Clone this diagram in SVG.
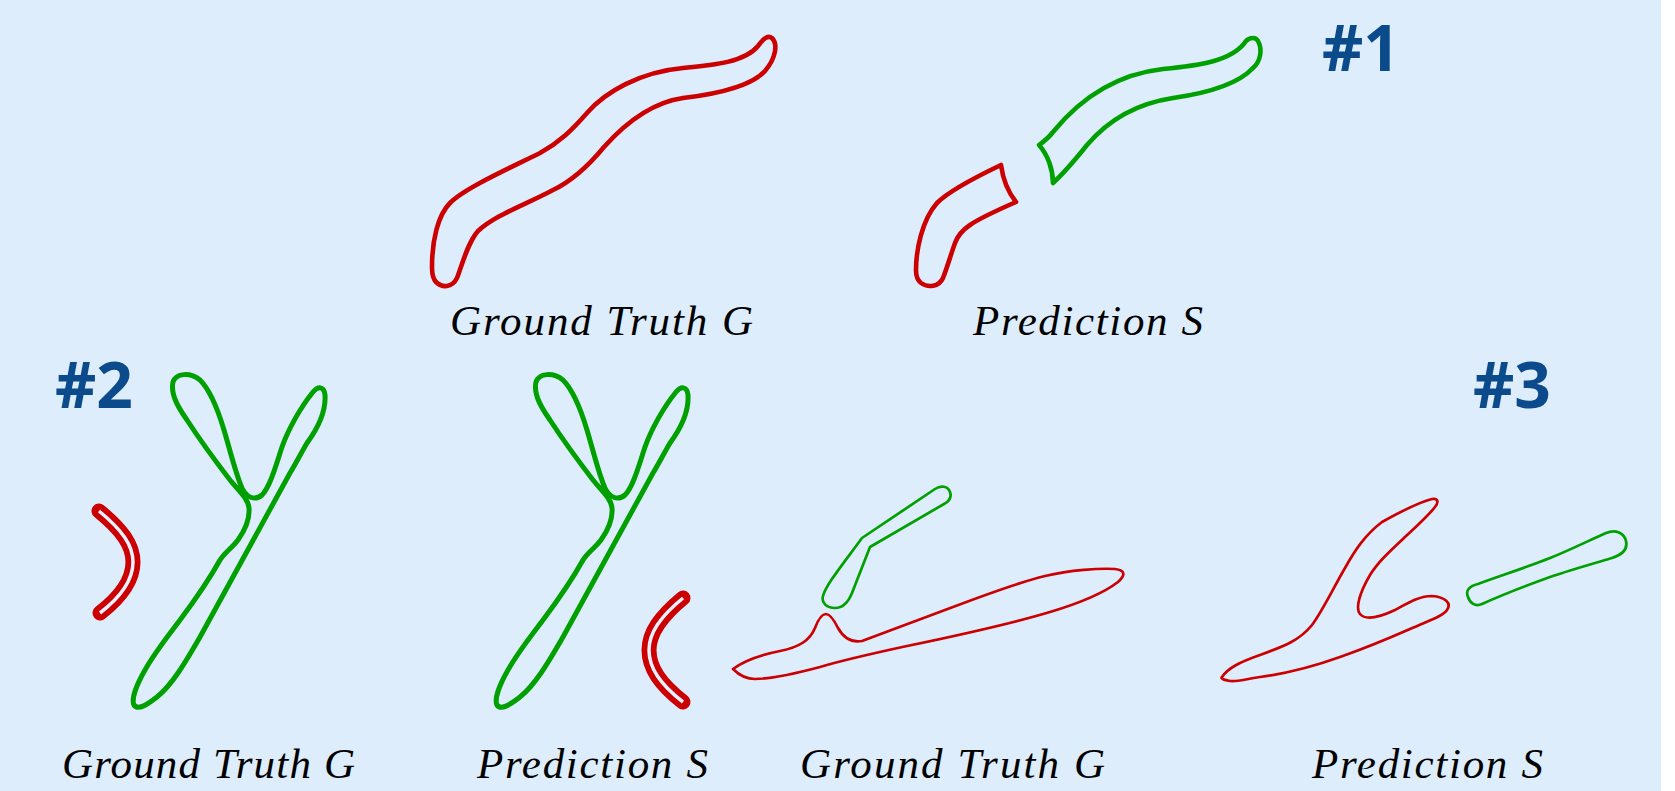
<svg xmlns="http://www.w3.org/2000/svg" xmlns:xlink="http://www.w3.org/1999/xlink" width="1675" height="791" viewBox="0 0 1675 791">
<style>
.red{fill:none;stroke:#cc0000;stroke-linejoin:round;stroke-linecap:round}
.green{fill:none;stroke:#00a000;stroke-linejoin:round;stroke-linecap:round}
.w4{stroke-width:4.6}
.w45{stroke-width:5}
.w3{stroke-width:2.7}
.lbl{font-family:'Liberation Serif','DejaVu Serif',serif;font-style:italic;font-size:43px;fill:#000}
.num{font-family:'Open Sans','Noto Sans',sans-serif;font-weight:bold;font-size:64px;fill:#0b4a8b}
.cres{fill:none;stroke:#cc0000;stroke-width:15;stroke-linecap:round}
.cresin{fill:none;stroke:#e6f1fd;stroke-width:3.5;stroke-linecap:butt}
</style>
<defs>
<path id="ypath" d="M 173,382 C 176,373 190,372 200,380 C 210,390 218,410 224,430 C 230,450 236,475 242,488 C 247,498 255,501 262,495 C 270,487 276,465 282,447 C 288,430 300,408 313,392 C 318,386 324,386 325,395 C 326,410 318,428 307,443 C 300,455 295,465 290,473 L 200,637 C 185,663 172,685 157,697 C 148,704 138,711 134,705 C 131,699 137,684 145,670 C 155,652 168,636 180,620 C 195,600 210,578 220,560 C 225,552 232,548 238,540 C 245,530 250,520 249,508 C 248,498 238,490 230,480 C 220,467 200,440 187,420 C 180,410 170,395 173,382 Z"/>
<path id="cresL" d="M 99,511 C 122,530 133,545 133,562 C 133,580 122,596 100,613"/>
<path id="cresR" d="M 683,598 C 660,617 649,633 649,650 C 649,668 660,684 683,702"/>
</defs>
<rect x="0" y="0" width="1675" height="791" fill="#ffffff"/>
<rect x="0" y="0" width="1661" height="791" fill="#ddedfc"/>

<g id="case1-gt">
<path class="red w4" d="M 432,267 C 432,240 438,215 450,203 C 465,188 510,168 540,153 C 560,142 572,130 587,113 C 605,92 640,72 683,68 C 715,65 745,62 758,46 C 764,38 768,35 772,38 C 778,44 776,58 765,71 C 752,85 725,93 683,98 C 655,102 630,118 604,147 C 585,170 570,182 553,190 C 525,205 495,215 478,231 C 468,242 462,265 457,278 C 452,288 442,288 436,282 C 432,278 432,272 432,267 Z"/>
<text class="lbl" x="450" y="335" textLength="303" lengthAdjust="spacing">Ground Truth G</text>
</g>

<g id="case1-pred">
<path class="red w4" d="M 916,270 C 916,250 922,220 937,203 C 950,190 980,175 1001,165 C 1003,180 1008,192 1016,202 C 1000,209 980,218 970,225 C 964,229 958,235 955,243 C 951,254 947,268 943,278 C 939,287 928,288 921,283 C 917,280 916,275 916,270 Z"/>
<path class="green w4" d="M 1039,145 C 1046,140 1050,136 1053,132 C 1075,105 1110,75 1163,69 C 1195,66 1232,62 1246,41 C 1250,37 1256,37 1258,41 C 1263,50 1260,62 1253,68 C 1240,82 1215,92 1173,98 C 1140,103 1110,118 1087,145 C 1075,160 1065,172 1053,183 C 1053,170 1048,155 1039,145 Z"/>
<text class="lbl" x="973" y="335" textLength="230" lengthAdjust="spacing">Prediction S</text>
</g>

<g id="label-1"><text class="num" x="1322" y="71">#1</text></g>
<g id="label-2"><text class="num" x="55" y="408">#2</text></g>
<g id="label-3"><text class="num" x="1473" y="408">#3</text></g>

<g id="case2-gt">
<use xlink:href="#cresL" class="cres"/>
<use xlink:href="#cresL" class="cresin"/>
<use xlink:href="#ypath" class="green w45"/>
<text class="lbl" x="62" y="778" textLength="293" lengthAdjust="spacing">Ground Truth G</text>
</g>

<g id="case2-pred">
<use xlink:href="#ypath" class="green w45" transform="translate(363,0)"/>
<use xlink:href="#cresR" class="cres"/>
<use xlink:href="#cresR" class="cresin"/>
<text class="lbl" x="477" y="778" textLength="231" lengthAdjust="spacing">Prediction S</text>
</g>

<g id="case3-gt">
<path class="green w3" d="M 823,596 C 826,585 840,568 862,538 L 935,489 C 941,485 948,486 950,492 C 952,498 948,502 944,504 L 870,547 L 852,593 C 848,603 842,608 835,608 C 827,608 821,603 823,596 Z"/>
<path class="red w3" d="M 733,669 C 745,660 760,655 780,651 C 800,647 810,640 815,628 C 818,620 822,614 826,614 C 830,614 834,620 838,628 C 843,637 850,643 862,641 L 953,607 C 990,593 1020,582 1045,576 C 1070,570 1100,568 1115,569 C 1125,570 1126,575 1118,582 C 1105,592 1080,603 1050,612 C 1010,624 960,635 907,646 C 870,654 840,661 820,667 C 790,675 770,679 755,679 C 745,679 738,674 733,669 Z"/>
<text class="lbl" x="800" y="778" textLength="305" lengthAdjust="spacing">Ground Truth G</text>
</g>

<g id="case3-pred">
<path class="red w3" d="M 1222,677 C 1228,668 1240,662 1260,655 C 1285,646 1300,640 1312,625 C 1322,612 1335,585 1345,568 C 1355,550 1365,535 1382,522 C 1400,512 1420,502 1432,499 C 1438,498 1439,502 1435,507 C 1428,516 1418,525 1405,537 C 1390,551 1378,562 1370,575 C 1360,592 1355,608 1360,614 C 1365,620 1378,618 1395,610 C 1410,602 1420,596 1432,596 C 1445,597 1452,603 1447,610 C 1443,616 1430,620 1410,629 C 1385,640 1360,650 1340,657 C 1315,666 1290,673 1260,677 C 1245,679 1238,682 1230,681 C 1225,680 1220,679 1222,677 Z"/>
<path class="green w3" d="M 1468,597 C 1465,590 1470,586 1478,584 C 1500,576 1530,566 1550,558 C 1570,550 1590,540 1606,533 C 1616,529 1624,533 1626,541 C 1628,550 1622,555 1612,558 C 1595,563 1570,570 1550,577 C 1525,586 1500,596 1482,604 C 1475,607 1470,603 1468,597 Z"/>
<text class="lbl" x="1312" y="778" textLength="231" lengthAdjust="spacing">Prediction S</text>
</g>
</svg>
